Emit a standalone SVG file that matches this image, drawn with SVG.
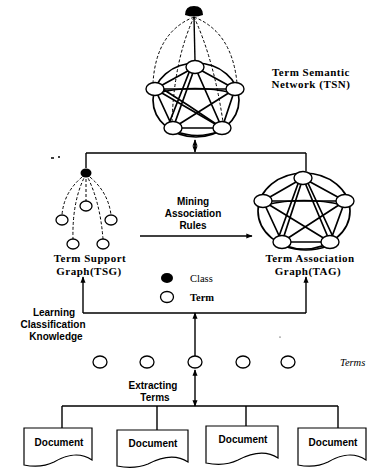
<svg xmlns="http://www.w3.org/2000/svg" width="369" height="468" viewBox="0 0 369 468">
<defs>
<marker id="ah" viewBox="0 0 10 10" refX="9" refY="5" markerWidth="4.5" markerHeight="4.5" orient="auto-start-reverse"><path d="M0,1 L10,5 L0,9 z" fill="#000"/></marker>
</defs>
<style>
.ln{fill:none;stroke:#000;stroke-width:1.4}
.ed{fill:none;stroke:#000;stroke-width:1.7}
.ds{fill:none;stroke:#000;stroke-width:1;stroke-dasharray:3 2}
.nd{fill:#fff;stroke:#000;stroke-width:1.3}
.big{fill:#fff;stroke:#000;stroke-width:1.4}
.cls{fill:#000}
.sb{font-family:"Liberation Sans",Arial,sans-serif;font-weight:bold;font-size:10px;fill:#000;text-anchor:middle}
.rb{font-family:"Liberation Serif","Times New Roman",serif;font-weight:bold;font-size:11px;letter-spacing:0.5px;fill:#000;text-anchor:middle}
.rs{font-family:"Liberation Serif","Times New Roman",serif;font-size:10.5px;fill:#000}
.doc{fill:#fff;stroke:#000;stroke-width:1.2}
</style>

<!-- Term Semantic Network -->
<g id="tsn">
  <ellipse class="ed" cx="196" cy="100" rx="43" ry="37"/>
  <path class="ds" d="M194,17 Q156,32 153,83"/>
  <path class="ds" d="M194,17 Q232,32 237,83"/>
  <path class="ds" d="M194,17 Q174,60 172,122"/>
  <path class="ds" d="M194,17 Q214,60 223,122"/>
  <path class="ln" d="M194,17 L195,61"/>
  <g class="ed">
    <path d="M195,67 L155,89 M195,67 L235,89 M195,67 L173,128 M195,67 L222,128 M155,89 L235,89 M155,89 L173,128 M155,89 L222,128 M235,89 L173,128 M235,89 L222,128 M173,128 L222,128"/>
    <path d="M157,93 Q195,84 233,93 M175,131 Q197,140 220,131 M190,70 L168,126 M158,86 Q190,106 219,126"/>
  </g>
  <path class="cls" d="M185,15 Q185,6 194,6 Q203,6 203,15 Q194,18 185,15 Z"/>
  <ellipse class="big" cx="195" cy="67" rx="9" ry="6.5"/>
  <ellipse class="big" cx="155" cy="89" rx="9" ry="6.5"/>
  <ellipse class="big" cx="235" cy="89" rx="9" ry="6.5"/>
  <ellipse class="big" cx="173" cy="128" rx="9" ry="6.5"/>
  <ellipse class="big" cx="222" cy="128" rx="9" ry="6.5"/>
  <text class="rb" x="311" y="76" font-size="10">Term Semantic</text>
  <text class="rb" x="311" y="88" font-size="10">Network (TSN)</text>
</g>

<!-- Term Support Graph -->
<g id="tsg">
  <path class="ds" d="M86,174 Q64,190 62,215"/>
  <path class="ds" d="M86,174 L86,201"/>
  <path class="ds" d="M86,174 Q108,190 111,215"/>
  <path class="ds" d="M86,174 Q72,200 73,239"/>
  <path class="ds" d="M86,174 Q100,200 103,239"/>
  <ellipse class="cls" cx="86" cy="173" rx="5.5" ry="4.5"/>
  <ellipse class="nd" cx="86" cy="206" rx="6" ry="5"/>
  <ellipse class="nd" cx="62" cy="220" rx="6" ry="5"/>
  <ellipse class="nd" cx="111" cy="220" rx="6" ry="5"/>
  <ellipse class="nd" cx="73" cy="244" rx="6" ry="5"/>
  <ellipse class="nd" cx="103" cy="244" rx="6" ry="5"/>
  <text class="rb" x="90" y="262">Term Support</text>
  <text class="rb" x="89" y="275">Graph(TSG)</text>
</g>

<!-- Term Association Graph -->
<g id="tag">
  <ellipse class="ed" cx="304" cy="211" rx="46" ry="38"/>
  <g class="ed">
    <path d="M303,178 L263,201 M303,178 L345,201 M303,178 L282,242 M303,178 L330,242 M263,201 L345,201 M263,201 L282,242 M263,201 L330,242 M345,201 L282,242 M345,201 L330,242 M282,242 L330,242"/>
    <path d="M265,205 Q304,196 343,205 M284,246 Q306,254 328,246 M299,181 L278,239 M307,181 L334,239"/>
  </g>
  <ellipse class="big" cx="303" cy="178" rx="9" ry="6.5"/>
  <ellipse class="big" cx="263" cy="201" rx="9" ry="6.5"/>
  <ellipse class="big" cx="345" cy="201" rx="9" ry="6.5"/>
  <ellipse class="big" cx="282" cy="242" rx="9" ry="6.5"/>
  <ellipse class="big" cx="330" cy="242" rx="9" ry="6.5"/>
  <text class="rb" x="310" y="262">Term Association</text>
  <text class="rb" x="308" y="275">Graph(TAG)</text>
</g>

<!-- legend -->
<g id="legend">
  <ellipse class="cls" cx="167" cy="278" rx="6" ry="5"/>
  <ellipse class="nd" cx="167" cy="297" rx="6.5" ry="5.5"/>
  <text class="rs" x="190" y="282">Class</text>
  <text class="rs" x="190" y="301" font-weight="bold">Term</text>
</g>

<!-- extracted terms row -->
<g id="terms">
  <ellipse class="nd" cx="100" cy="362" rx="7" ry="6"/>
  <ellipse class="nd" cx="147" cy="362" rx="7" ry="6"/>
  <ellipse class="nd" cx="195" cy="362" rx="7" ry="6"/>
  <ellipse class="nd" cx="243" cy="362" rx="7" ry="6"/>
  <ellipse class="nd" cx="288" cy="362" rx="7" ry="6"/>
  <text class="rs" x="340" y="366" font-style="italic">Terms</text>
</g>

<!-- documents -->
<g id="doc1">
  <path class="doc" d="M24,428 H92 V460 C80,452 68,454 54,462 C44,467 34,467 24,465 Z"/>
  <text class="sb" x="59" y="446">Document</text>
</g>
<g id="doc2">
  <path class="doc" d="M117,430 H188 V462 C176,454 163,456 148,464 C138,468 127,468 117,466 Z"/>
  <text class="sb" x="153" y="447">Document</text>
</g>
<g id="doc3">
  <path class="doc" d="M206,426 H278 V458 C266,450 253,452 238,460 C228,465 216,465 206,463 Z"/>
  <text class="sb" x="243" y="443">Document</text>
</g>
<g id="doc4">
  <path class="doc" d="M298,428 H366 V460 C354,452 342,454 328,462 C318,467 308,467 298,465 Z"/>
  <text class="sb" x="333" y="446">Document</text>
</g>

<!-- process labels -->
<g id="labels">
  <text class="sb" x="193" y="205">Mining</text>
  <text class="sb" x="193" y="217">Association</text>
  <text class="sb" x="193" y="229">Rules</text>
  <text class="sb" x="54" y="316">Learning</text>
  <text class="sb" x="53" y="328">Classification</text>
  <text class="sb" x="56" y="340">Knowledge</text>
  <text class="sb" x="153" y="389">Extracting</text>
  <text class="sb" x="155" y="401">Terms</text>
</g>

<!-- connectors -->
<g id="connectors">
  <path class="ln" d="M195,140 V152" marker-start="url(#ah)" marker-end="url(#ah)"/>
  <path class="ln" d="M86,153 H306"/>
  <path class="ln" d="M86,153 V168"/>
  <path class="ln" d="M306,153 V171"/>
  <path class="ln" d="M140,236 H252" marker-end="url(#ah)"/>
  <path class="ln" d="M83,313 V277" marker-end="url(#ah)"/>
  <path class="ln" d="M306,313 V277" marker-end="url(#ah)"/>
  <path class="ln" d="M83,313 H306"/>
  <path class="ln" d="M195,322 V313" marker-end="url(#ah)"/>
  <path class="ln" d="M195,322 V356"/>
  <path class="ln" d="M195,370 V406" marker-start="url(#ah)" marker-end="url(#ah)"/>
  <path class="ln" d="M62,406 H338"/>
  <path class="ln" d="M62,406 V428 M157,406 V430 M246,406 V426 M338,406 V428"/>
  <path class="ln" d="M51,158 H54 M58,157 H60" stroke-width="1"/>
  <circle cx="280" cy="337" r="0.6" fill="#000"/>
</g>
</svg>
